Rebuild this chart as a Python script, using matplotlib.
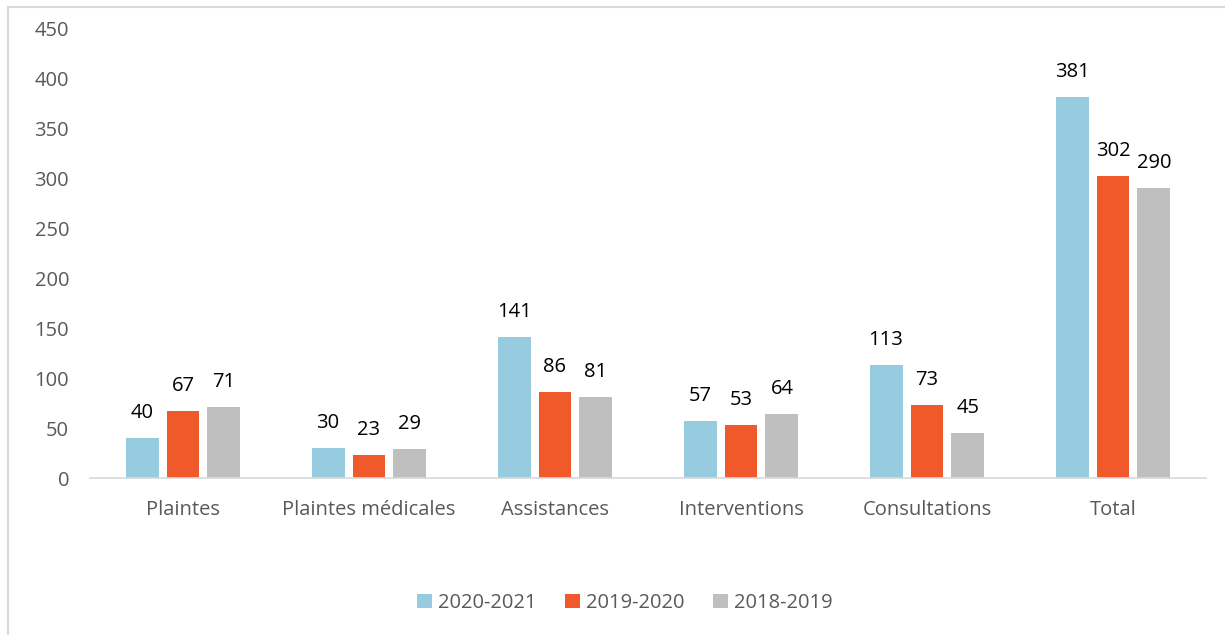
import matplotlib
matplotlib.use("Agg")
import matplotlib.pyplot as plt
from matplotlib.patches import Rectangle
import numpy as np

categories = ["Plaintes", "Plaintes médicales", "Assistances", "Interventions", "Consultations", "Total"]
series_names = ["2020-2021", "2019-2020", "2018-2019"]
s2020_2021 = [40, 30, 141, 57, 113, 381]
s2019_2020 = [67, 23, 86, 53, 73, 302]
s2018_2019 = [71, 29, 81, 64, 45, 290]
colors = ["#97CBE0", "#F05A2A", "#BFBFBF"]

plt.rcParams['font.family'] = ['Open Sans', 'DejaVu Sans']

W, H = 1225, 635
fig = plt.figure(figsize=(W / 100, H / 100), dpi=100)
ax = fig.add_axes([90 / W, 1 - 478 / H, (1206 - 90) / W, (478 - 28) / H])

FS = 14.5
x = np.arange(len(categories))
bw = 0.177
step = 0.22
for i, (vals, name, c) in enumerate(zip([s2020_2021, s2019_2020, s2018_2019], series_names, colors)):
    pos = x + (i - 1) * step
    bars = ax.bar(pos, vals, width=bw, color=c, label=name, zorder=2)
    for b, v in zip(bars, vals):
        ax.text(b.get_x() + b.get_width() / 2, v + 15, str(v), ha='center', va='bottom',
                fontsize=FS, color='black')

ax.set_xlim(-0.5, len(categories) - 0.5)
ax.set_ylim(0, 450)
ax.set_yticks(np.arange(0, 451, 50))
ax.set_xticks(x)
ax.set_xticklabels(categories)
for s in ['top', 'right', 'left']:
    ax.spines[s].set_visible(False)
ax.spines['bottom'].set_color('#D9D9D9')
ax.spines['bottom'].set_linewidth(1.2)
ax.tick_params(axis='both', length=0, labelsize=FS, colors='#595959')
ax.tick_params(axis='y', pad=15)
ax.tick_params(axis='x', pad=16)

leg = fig.legend(loc='center', bbox_to_anchor=(625 / W, 1 - 603 / H), ncol=3, frameon=False,
                 fontsize=FS, handlelength=0.75, handleheight=0.75, handletextpad=0.3,
                 columnspacing=1.4, labelcolor='#595959')

fig.patches.append(Rectangle((8 / W, -0.1), 1.2, 1 - 7 / H + 0.1, transform=fig.transFigure,
                             fill=False, edgecolor='#D9D9D9', linewidth=1.5))

fig.savefig("out.png", dpi=100)
